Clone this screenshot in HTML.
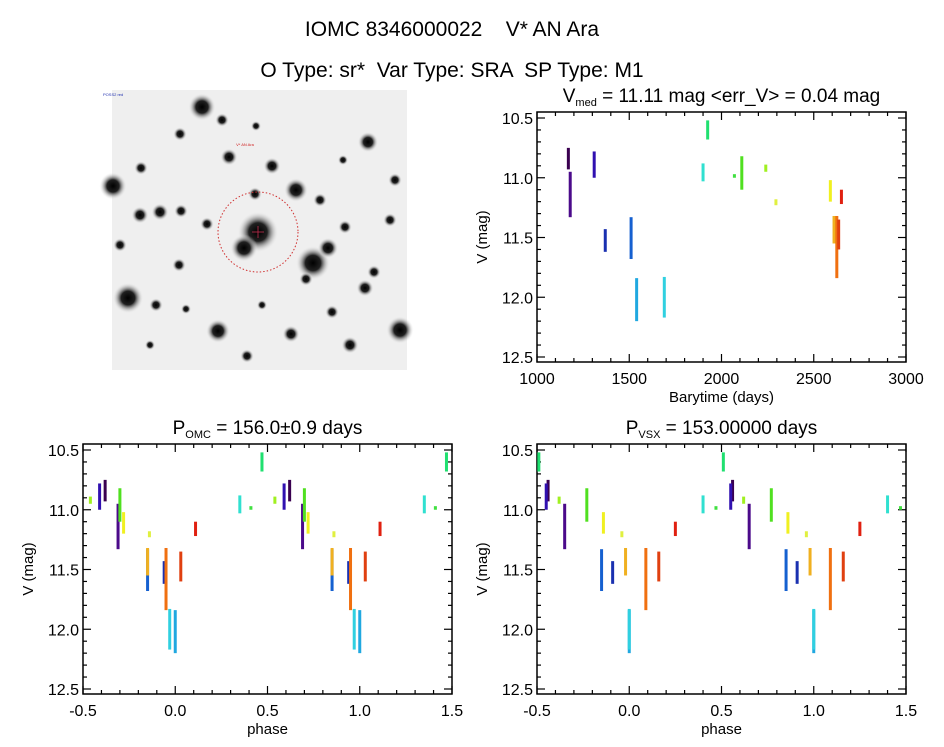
<!DOCTYPE html>
<html><head><meta charset="utf-8"><style>
html,body{margin:0;padding:0;background:#fff;}
svg{display:block;font-family:"Liberation Sans",sans-serif;}
</style></head><body>
<svg id="fig" width="944" height="747" viewBox="0 0 944 747" xmlns="http://www.w3.org/2000/svg">
<text x="452" y="36" font-size="21" text-anchor="middle">IOMC 8346000022 &#160;&#160; V* AN Ara</text>
<text x="452" y="77" font-size="21" text-anchor="middle">O Type: sr* &#160;Var Type: SRA &#160;SP Type: M1</text>
<g id="sky"></g>
<g id="p1"></g>
<g id="p2"></g>
<g id="p3"></g>
</svg>
<script>
const seasonTimes = [1170,1180,1310,1370,1510,1540,1690,1900,1925,2070,2110,2240,2295,2590,2610,2625,2635,2650];
const seasonMagTop = [10.75,10.95,10.78,11.43,11.33,11.84,11.83,10.88,10.52,10.97,10.82,10.89,11.18,11.02,11.32,11.32,11.35,11.10];
const seasonMagBottom = [10.93,11.33,11.00,11.62,11.68,12.20,12.17,11.03,10.68,11.00,11.10,10.95,11.23,11.20,11.55,11.84,11.60,11.22];
const seasonColors = ['#3a0050','#4b0a8a','#3010b0','#1a30b0','#1560d0','#20a8e0','#30d0e0','#30e0d0','#20e070','#40e040','#50e020','#a0f020','#e0f040','#f0f020','#f0b020','#f07010','#e04010','#e02010'];
// phases of each season
const phaseOMC = [-0.38,-0.31,-0.41,-0.06,-0.15,0.00,-0.03,0.35,0.47,0.41,-0.30,-0.46,-0.14,-0.28,-0.15,-0.05,0.03,0.11];
const phaseVSX = [-0.44,-0.35,-0.45,-0.09,-0.15,0.00,0.00,0.40,0.51,0.47,-0.23,-0.38,-0.04,-0.14,-0.02,0.09,0.16,0.25];
const magTicks = [10.5,11.0,11.5,12.0,12.5];
const timeTicks = [1000,1500,2000,2500,3000];
const phaseTicks = [-0.5,0.0,0.5,1.0,1.5];

const NS='http://www.w3.org/2000/svg';
function mk(parent,tag,attrs){const e=document.createElementNS(NS,tag);for(const k in attrs)e.setAttribute(k,attrs[k]);parent.appendChild(e);return e;}

function panel(g,x0,x1,y0,y1,xmin,xmax,xTicks,xMinor,xFmt,xlabel,title){
  const ytop=y0+6, ybot=y1-5;
  const sx=v=>x0+(v-xmin)/(xmax-xmin)*(x1-x0);
  const sy=v=>ytop+(v-10.5)/2.0*(ybot-ytop);
  const frame=mk(g,'rect',{x:x0,y:y0,width:x1-x0,height:y1-y0,fill:'none',stroke:'#000','stroke-width':1.5});
  
  
  for(let v=10.5;v<=12.501;v+=0.1){
    const major=Math.abs(v*2-Math.round(v*2))<1e-6;const L=major?8:4;const y=sy(v);
    mk(g,'line',{x1:x0,x2:x0+L,y1:y,y2:y,stroke:'#000','stroke-width':1.2});
    mk(g,'line',{x1:x1,x2:x1-L,y1:y,y2:y,stroke:'#000','stroke-width':1.2});
  }
  magTicks.forEach(v=>{const t=mk(g,'text',{x:x0-4,y:sy(v)+6,'font-size':16,'text-anchor':'end'});t.textContent=v.toFixed(1);
    
    });
  for(let v=xmin;v<=xmax+1e-6;v+=xMinor){
    const major=xTicks.some(m=>Math.abs(m-v)<1e-6);const L=major?8:4;const x=sx(v);
    mk(g,'line',{x1:x,x2:x,y1:y1,y2:y1-L,stroke:'#000','stroke-width':1.2});
    mk(g,'line',{x1:x,x2:x,y1:y0,y2:y0+L,stroke:'#000','stroke-width':1.2});
  }
  xTicks.forEach(v=>{const t=mk(g,'text',{x:sx(v),y:y1+22,'font-size':16,'text-anchor':'middle'});t.textContent=xFmt(v);
    
    });
  const xl=mk(g,'text',{x:(x0+x1)/2,y:y1+40,'font-size':15,'text-anchor':'middle'});xl.textContent=xlabel;
  
  
  const yl=mk(g,'text',{x:0,y:0,'font-size':15,'text-anchor':'middle',transform:`translate(${x0-50},${(y0+y1)/2}) rotate(-90)`});yl.textContent='V (mag)';
  
  
  const tt=mk(g,'text',{x:(x0+x1)/2,y:y0-10,'font-size':19,'text-anchor':'middle'});
  
  
  const parts=title.split('|');
  const a=mk(tt,'tspan',{});a.textContent=parts[0];
  const b=mk(tt,'tspan',{'font-size':11,dy:4});b.textContent=parts[1];
  const c=mk(tt,'tspan',{dy:-4});c.textContent=parts[2];
  return {sx,sy};
}

function streak(g,x,sy,i){
  const r=mk(g,'rect',{x:x-1.5,y:sy(seasonMagTop[i]),width:3,height:Math.max(2,sy(seasonMagBottom[i])-sy(seasonMagTop[i])),fill:seasonColors[i]});
  
  
}

const p1=document.getElementById('p1');
const A=panel(p1,537,906,112,362,1000,3000,timeTicks,100,v=>String(v),'Barytime (days)','V|med| = 11.11 mag <err_V> = 0.04 mag');
seasonTimes.forEach((t,i)=>streak(p1,A.sx(t),A.sy,i));

function phased(id,x0,x1,phases,title){
  const g=document.getElementById(id);
  const S=panel(g,x0,x1,444,694,-0.5,1.5,phaseTicks,0.1,v=>v.toFixed(1),'phase',title);
  phases.forEach((ph0,i)=>{
    let ph=ph0%1; if(ph<0)ph+=1;
    [ph-1,ph,ph+1].forEach(p=>{if(p>=-0.5&&p<=1.5)streak(g,S.sx(p),S.sy,i);});
  });
}
phased('p2',83,452,phaseOMC,'P|OMC| = 156.0\u00b10.9 days');
phased('p3',537,906,phaseVSX,'P|VSX| = 153.00000 days');

const sky=document.getElementById('sky');
const defs=mk(sky,'defs',{});
const rg=mk(defs,'radialGradient',{id:'st'});
mk(rg,'stop',{offset:'0%','stop-color':'#000'});
mk(rg,'stop',{offset:'45%','stop-color':'#202020'});
mk(rg,'stop',{offset:'100%','stop-color':'#f0f0f0','stop-opacity':0});
mk(sky,'rect',{x:112,y:90,width:295,height:280,fill:'#efefef'});
const stars=[[258,232,12],[244,248,8],[313,263,10],[296,190,7],[202,107,8],[128,298,9],[113,186,8],[140,215,5],[218,331,7],[368,142,6],[400,330,8],[160,212,5],[181,211,4],[272,166,5],[229,157,5],[328,248,6],[365,288,5],[345,227,4],[291,334,5],[350,345,5],[141,168,4],[179,265,4],[207,224,4],[255,194,4],[306,279,4],[332,312,4],[374,272,4],[247,356,4],[156,305,4],[186,309,3],[262,305,3],[320,200,4],[180,134,4],[222,120,4],[256,126,3],[343,160,3],[390,220,4],[120,245,4],[150,345,3],[395,180,4]];
stars.forEach(s=>mk(sky,'circle',{cx:s[0],cy:s[1],r:s[2]*1.7,fill:'url(#st)'}));
const circ=mk(sky,'circle',{cx:258,cy:232,r:40,fill:'none',stroke:'#d03030','stroke-width':1,'stroke-dasharray':'1.5,2'});


mk(sky,'line',{x1:252,x2:264,y1:232,y2:232,stroke:'#c03050','stroke-width':0.8});
mk(sky,'line',{x1:258,x2:258,y1:226,y2:238,stroke:'#c03050','stroke-width':0.8});
const lbl=mk(sky,'text',{x:245,y:146,'font-size':4,fill:'#d02020','text-anchor':'middle'});lbl.textContent='V* AN Ara';


const lb2=mk(sky,'text',{x:103,y:96,'font-size':4,fill:'#2030b0'});lb2.textContent='POSS2 red';


</script>
</body></html>
